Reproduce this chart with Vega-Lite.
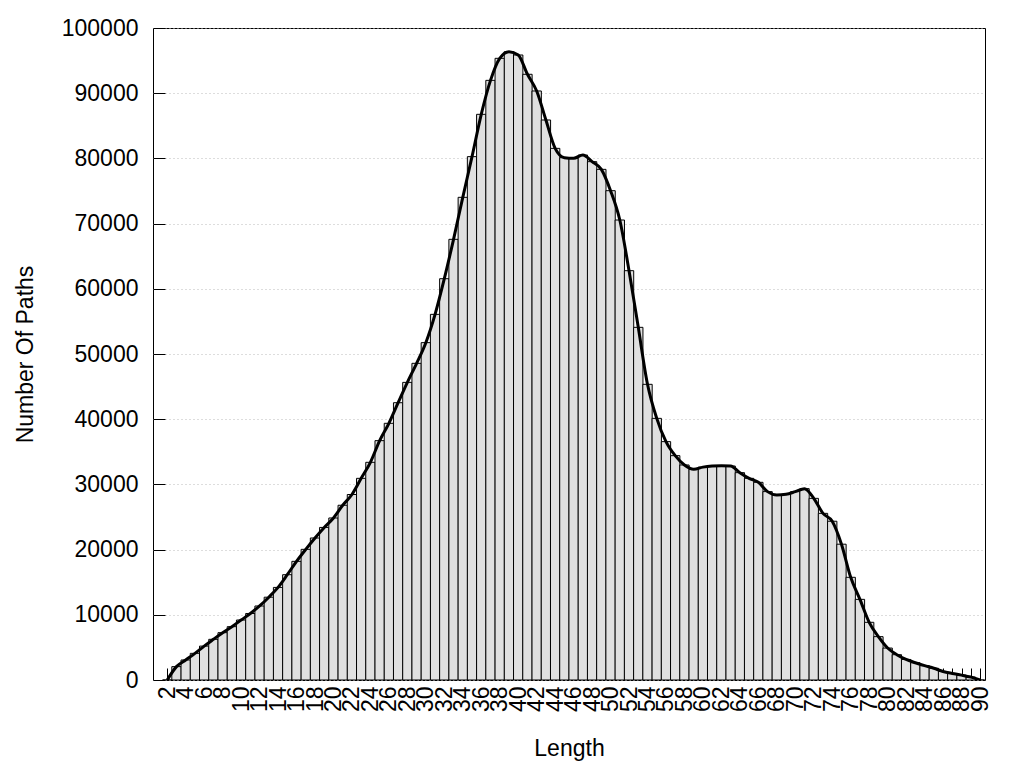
{
  "$schema": "https://vega.github.io/schema/vega-lite/v6.json",
  "width": 832,
  "height": 652,
  "autosize": {"type": "none"},
  "padding": {"left": 153, "top": 28, "right": 39, "bottom": 88},
  "background": "white",
  "config": {
    "view": {"stroke": "black", "strokeWidth": 1},
    "font": "Liberation Sans",
    "axis": {
      "labelFont": "Liberation Sans",
      "titleFont": "Liberation Sans",
      "labelFontSize": 23,
      "titleFontSize": 23,
      "titleFontWeight": "normal",
      "labelColor": "black",
      "titleColor": "black",
      "tickColor": "black",
      "tickWidth": 1,
      "domain": false
    }
  },
  "data": {
    "values": [
      {"length": 2, "paths": 0},
      {"length": 3, "paths": 2050},
      {"length": 4, "paths": 3070},
      {"length": 5, "paths": 4090},
      {"length": 6, "paths": 5200},
      {"length": 7, "paths": 6240},
      {"length": 8, "paths": 7260},
      {"length": 9, "paths": 8180},
      {"length": 10, "paths": 9200},
      {"length": 11, "paths": 10200},
      {"length": 12, "paths": 11350},
      {"length": 13, "paths": 12700},
      {"length": 14, "paths": 14200},
      {"length": 15, "paths": 16150},
      {"length": 16, "paths": 18200},
      {"length": 17, "paths": 20040},
      {"length": 18, "paths": 21780},
      {"length": 19, "paths": 23400},
      {"length": 20, "paths": 24850},
      {"length": 21, "paths": 26800},
      {"length": 22, "paths": 28450},
      {"length": 23, "paths": 30930},
      {"length": 24, "paths": 33390},
      {"length": 25, "paths": 36710},
      {"length": 26, "paths": 39370},
      {"length": 27, "paths": 42530},
      {"length": 28, "paths": 45650},
      {"length": 29, "paths": 48570},
      {"length": 30, "paths": 51740},
      {"length": 31, "paths": 56080},
      {"length": 32, "paths": 61550},
      {"length": 33, "paths": 67590},
      {"length": 34, "paths": 74030},
      {"length": 35, "paths": 80270},
      {"length": 36, "paths": 86760},
      {"length": 37, "paths": 91970},
      {"length": 38, "paths": 95350},
      {"length": 39, "paths": 96370},
      {"length": 40, "paths": 95860},
      {"length": 41, "paths": 92900},
      {"length": 42, "paths": 90340},
      {"length": 43, "paths": 85890},
      {"length": 44, "paths": 81540},
      {"length": 45, "paths": 80110},
      {"length": 46, "paths": 80010},
      {"length": 47, "paths": 80520},
      {"length": 48, "paths": 79500},
      {"length": 49, "paths": 78320},
      {"length": 50, "paths": 75050},
      {"length": 51, "paths": 70550},
      {"length": 52, "paths": 62780},
      {"length": 53, "paths": 54090},
      {"length": 54, "paths": 45350},
      {"length": 55, "paths": 40130},
      {"length": 56, "paths": 36560},
      {"length": 57, "paths": 34410},
      {"length": 58, "paths": 32980},
      {"length": 59, "paths": 32310},
      {"length": 60, "paths": 32650},
      {"length": 61, "paths": 32820},
      {"length": 62, "paths": 32870},
      {"length": 63, "paths": 32820},
      {"length": 64, "paths": 31800},
      {"length": 65, "paths": 30930},
      {"length": 66, "paths": 30320},
      {"length": 67, "paths": 28890},
      {"length": 68, "paths": 28370},
      {"length": 69, "paths": 28480},
      {"length": 70, "paths": 28890},
      {"length": 71, "paths": 29350},
      {"length": 72, "paths": 27860},
      {"length": 73, "paths": 25560},
      {"length": 74, "paths": 24350},
      {"length": 75, "paths": 20830},
      {"length": 76, "paths": 15750},
      {"length": 77, "paths": 12370},
      {"length": 78, "paths": 8850},
      {"length": 79, "paths": 6650},
      {"length": 80, "paths": 4900},
      {"length": 81, "paths": 3880},
      {"length": 82, "paths": 3150},
      {"length": 83, "paths": 2650},
      {"length": 84, "paths": 2200},
      {"length": 85, "paths": 1800},
      {"length": 86, "paths": 1300},
      {"length": 87, "paths": 1000},
      {"length": 88, "paths": 750},
      {"length": 89, "paths": 450},
      {"length": 90, "paths": 0}
    ]
  },
  "layer": [
    {
      "mark": {"type": "bar", "fill": "#e0e0e0", "stroke": "black", "strokeWidth": 1, "size": 9.348, "clip": true},
      "encoding": {
        "x": {
          "field": "length",
          "type": "quantitative",
          "scale": {"domain": [1, 90], "nice": false, "zero": false},
          "axis": {
            "title": "Length",
            "values": [2,3,4,5,6,7,8,9,10,11,12,13,14,15,16,17,18,19,20,21,22,23,24,25,26,27,28,29,30,31,32,33,34,35,36,37,38,39,40,41,42,43,44,45,46,47,48,49,50,51,52,53,54,55,56,57,58,59,60,61,62,63,64,65,66,67,68,69,70,71,72,73,74,75,76,77,78,79,80,81,82,83,84,85,86,87,88,89,90],
            "tickCount": 200,
            "format": "d",
            "labelExpr": "datum.value % 2 === 0 ? datum.label : ''",
            "labelAngle": 270,
            "labelOverlap": false,
            "labelFlush": false,
            "labelBound": false,
            "tickSize": -12,
            "labelPadding": 18,
            "titlePadding": 26,
            "grid": false
          }
        },
        "y": {
          "field": "paths",
          "type": "quantitative",
          "scale": {"domain": [0, 100000], "nice": false},
          "axis": {
            "title": "Number Of Paths",
            "values": [0,10000,20000,30000,40000,50000,60000,70000,80000,90000,100000],
            "tickCount": 20,
            "format": "d",
            "tickSize": -12,
            "labelPadding": 27,
            "titlePadding": 24,
            "grid": true,
            "gridColor": "#bbbbbb",
            "gridDash": [1, 3],
            "gridWidth": 1
          }
        }
      }
    },
    {
      "mark": {"type": "line", "color": "black", "strokeWidth": 3, "interpolate": "monotone", "clip": true},
      "encoding": {
        "x": {"field": "length", "type": "quantitative"},
        "y": {"field": "paths", "type": "quantitative"}
      }
    }
  ]
}
